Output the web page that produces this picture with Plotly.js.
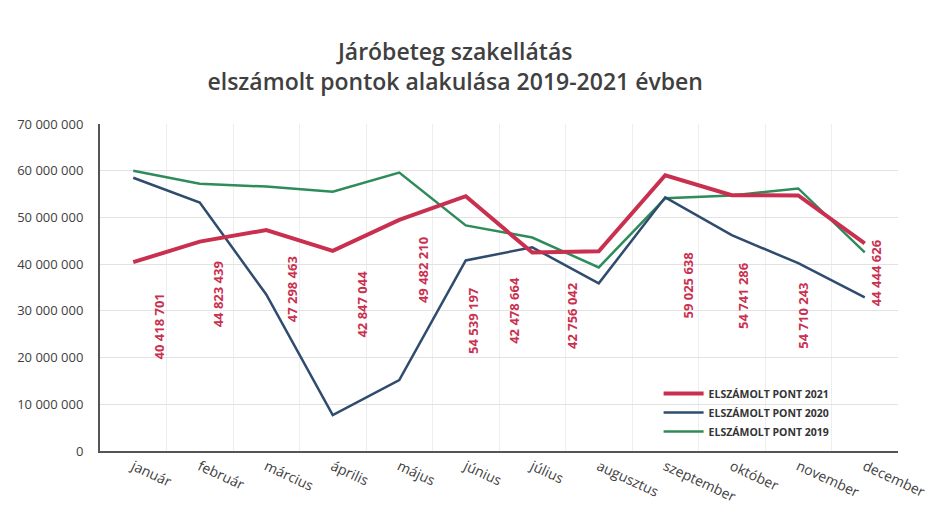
<!DOCTYPE html>
<html>
<head>
<meta charset="utf-8">
<script src="https://cdn.plot.ly/plotly-3.0.1.min.js"></script>
<style>
  html, body { margin: 0; padding: 0; background: #fff; }
  #chart { width: 929px; height: 520px; }
</style>
</head>
<body>
<div id="chart"></div>
<script>
// months
var months = ["január", "február", "március", "április", "május", "június",
              "július", "augusztus", "szeptember", "október", "november", "december"];

// elszámolt pontok
var pont2021 = [40418701, 44823439, 47298463, 42847044, 49482210, 54539197,
                42478664, 42756042, 59025638, 54741286, 54710243, 44444626];
var pont2020 = [58500000, 53200000, 33500000, 7700000, 15200000, 40800000,
                43600000, 35900000, 54300000, 46200000, 40200000, 32900000];
var pont2019 = [60000000, 57200000, 56600000, 55500000, 59600000, 48300000,
                45700000, 39300000, 54100000, 54700000, 56200000, 42500000];

var seriesNames = ["ELSZÁMOLT PONT 2021", "ELSZÁMOLT PONT 2020", "ELSZÁMOLT PONT 2019"];

// label offsets (pixels) for the 2021 value labels
var labelDx = [26, 18, 26, 29, 24, 7, -19, -26, 23, 12, 5, 12];
var labelDy = [64, 53, 59, 53, 50, 124, 58, 64, 110, 100, 120, 29];

function fmt(n) {
  return String(n).replace(/\B(?=(\d{3})+(?!\d))/g, " ");
}

var t2019 = {x: months, y: pont2019, type: "scatter", mode: "lines", name: seriesNames[2],
             line: {color: "#2e8b5a", width: 2.5}};
var t2020 = {x: months, y: pont2020, type: "scatter", mode: "lines", name: seriesNames[1],
             line: {color: "#2f4b6e", width: 2.5}};
var t2021 = {x: months, y: pont2021, type: "scatter", mode: "lines", name: seriesNames[0],
             line: {color: "#c9304f", width: 4}};

var annotations = pont2021.map(function(v, i) {
  return {
    x: months[i], y: v, xref: "x", yref: "y",
    text: fmt(v), showarrow: false, textangle: -90,
    xanchor: "center", yanchor: "middle",
    xshift: labelDx[i], yshift: -labelDy[i],
    font: {family: "Open Sans", size: 13, color: "#c9304f", weight: "bold"}
  };
});

var layout = {
  width: 929, height: 520,
  paper_bgcolor: "#ffffff", plot_bgcolor: "#ffffff",
  margin: {l: 100, r: 31, t: 124, b: 69},
  separators: ", ",
  title: {
    text: "Járóbeteg szakellátás<br>elszámolt pontok alakulása 2019-2021 évben",
    font: {family: "Open Sans", size: 23, color: "#404040", weight: 600},
    x: 0.49, xref: "container", xanchor: "center",
    y: 0.884, yref: "container", yanchor: "middle"
  },
  xaxis: {
    type: "category", range: [-0.5, 11.5],
    tickangle: 25, tickson: "boundaries", ticks: "",
    showgrid: true, gridcolor: "#eeeeee", gridwidth: 1,
    showline: true, linecolor: "#555555", linewidth: 2,
    tickfont: {family: "Open Sans", size: 14, color: "#404040"}
  },
  yaxis: {
    range: [0, 70000000], dtick: 10000000, tickformat: ",d",
    showgrid: true, gridcolor: "#e2e2e2", gridwidth: 1,
    showline: true, linecolor: "#555555", linewidth: 2,
    zeroline: false, ticks: "", ticklabelstandoff: 12,
    tickfont: {family: "Open Sans", size: 13, color: "#404040"}
  },
  legend: {
    x: 0.7, y: 0.22, xanchor: "left", yanchor: "top",
    traceorder: "reversed", bgcolor: "rgba(0,0,0,0)",
    itemwidth: 40,
    font: {family: "Open Sans", size: 10.5, color: "#333333", weight: "bold"}
  },
  annotations: annotations,
  showlegend: true
};

Plotly.newPlot("chart", [t2019, t2020, t2021], layout, {displayModeBar: false, staticPlot: true});
</script>
</body>
</html>
